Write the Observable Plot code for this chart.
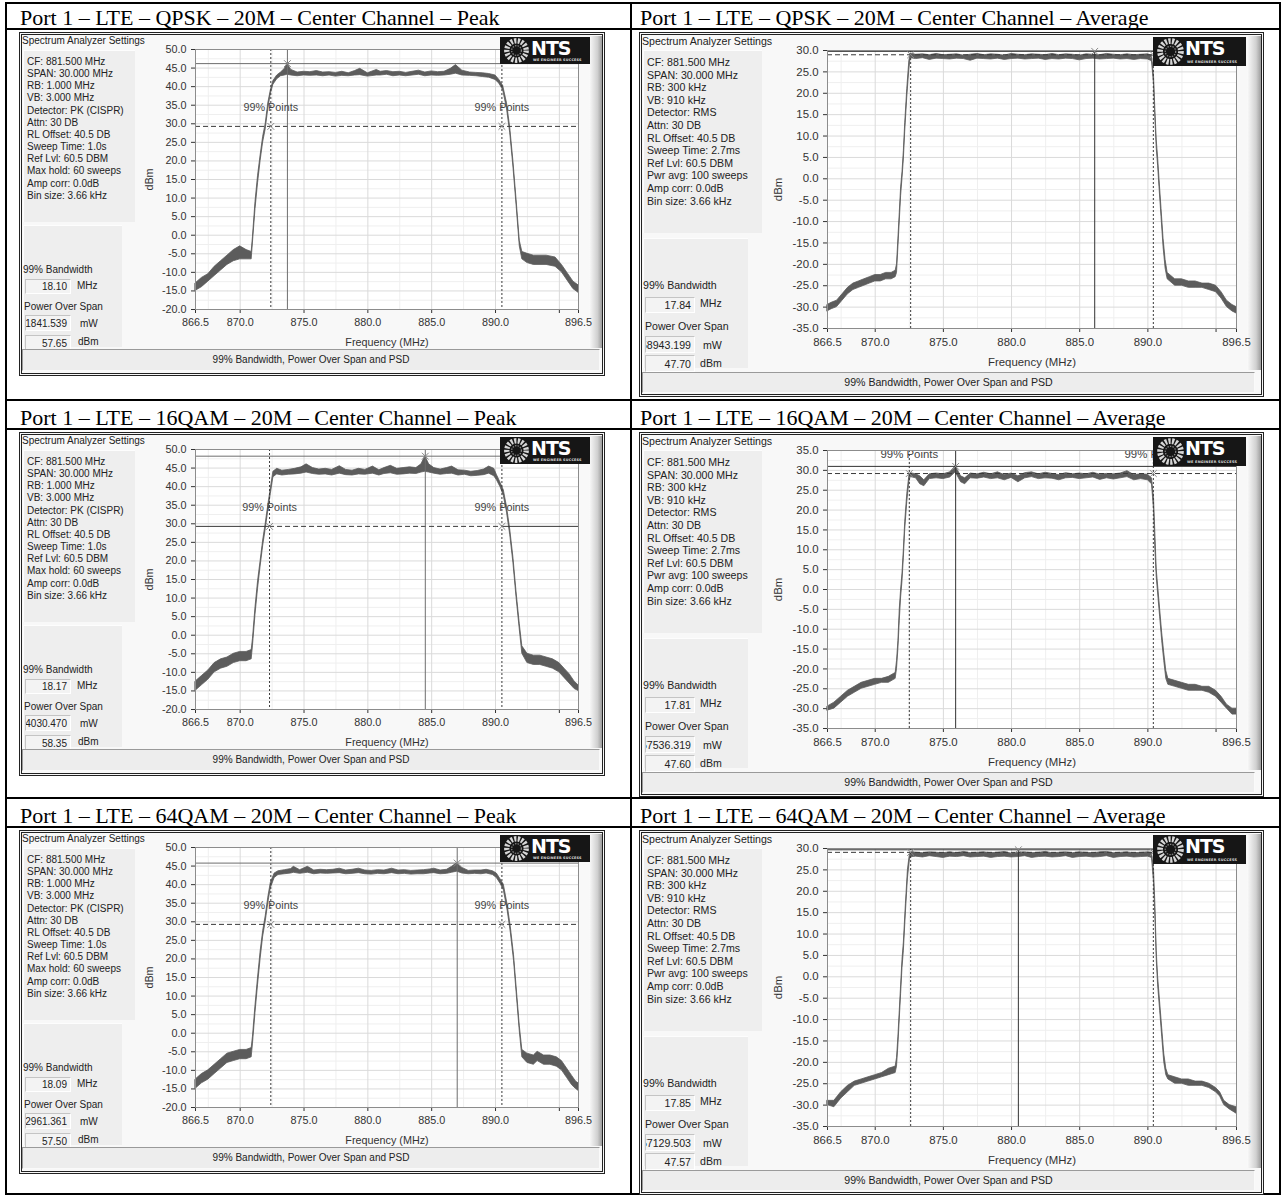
<!DOCTYPE html>
<html><head><meta charset="utf-8">
<script src="https://cdn.jsdelivr.net/npm/d3@7/dist/d3.min.js"></script>
<script src="https://cdn.jsdelivr.net/npm/@observablehq/plot@0.6/dist/plot.umd.min.js"></script>
<style>
body{margin:0;background:#fff;width:1281px;height:1196px;position:relative;overflow:hidden;font-family:'Liberation Sans',Arial,sans-serif;}
.tl{position:absolute;background:#000;}
.title{position:absolute;font-family:'Liberation Serif','Times New Roman',serif;font-size:22px;line-height:22px;white-space:nowrap;color:#000;}
.frame{position:absolute;box-sizing:border-box;border:3px double #222;background:#f8f8f8;}
.lbl{position:absolute;white-space:nowrap;color:#222;line-height:1.2;}
.box{position:absolute;background:#eeeeee;box-sizing:border-box;border-top:1px solid #fdfdfd;border-left:1px solid #fdfdfd;}
.vbox{position:absolute;box-sizing:border-box;background:#f3f3f3;border-top:1px solid #c4c4c4;border-left:1px solid #c4c4c4;border-bottom:1px solid #fff;border-right:1px solid #fff;display:flex;justify-content:flex-end;align-items:center;overflow:hidden;white-space:nowrap;padding-right:3px;color:#222;}
.status{position:absolute;box-sizing:border-box;background:#ededed;border:1px solid #9a9a9a;border-right-color:#fafafa;border-bottom-color:#fafafa;text-align:center;color:#222;}
.strip{position:absolute;background:linear-gradient(to right,#fbfbfb,#d0d0d0 65%,#9c9c9c);}
.logo{position:absolute;background:#161616;overflow:hidden;z-index:5;}
.logo .nts{position:absolute;color:#fff;font-family:'DejaVu Sans',sans-serif;font-weight:bold;letter-spacing:-1px;line-height:1;}
.logo .tag{position:absolute;color:#ddd;font-family:'DejaVu Sans',sans-serif;font-weight:bold;white-space:nowrap;line-height:1;}
.plotwrap{position:absolute;z-index:2;}
</style></head><body>
<script>
// ---------------- DATA ----------------
const titles = [
  "Port 1 – LTE – QPSK – 20M – Center Channel – Peak",
  "Port 1 – LTE – QPSK – 20M – Center Channel – Average",
  "Port 1 – LTE – 16QAM – 20M – Center Channel – Peak",
  "Port 1 – LTE – 16QAM – 20M – Center Channel – Average",
  "Port 1 – LTE – 64QAM – 20M – Center Channel – Peak",
  "Port 1 – LTE – 64QAM – 20M – Center Channel – Average"
];
const peakSettings = ["CF: 881.500 MHz","SPAN: 30.000 MHz","RB: 1.000 MHz","VB: 3.000 MHz","Detector: PK (CISPR)","Attn: 30 DB","RL Offset: 40.5 DB","Sweep Time: 1.0s","Ref Lvl: 60.5 DBM","Max hold: 60 sweeps","Amp corr: 0.0dB","Bin size: 3.66 kHz"];
const avgSettings = ["CF: 881.500 MHz","SPAN: 30.000 MHz","RB: 300 kHz","VB: 910 kHz","Detector: RMS","Attn: 30 DB","RL Offset: 40.5 DB","Sweep Time: 2.7ms","Ref Lvl: 60.5 DBM","Pwr avg: 100 sweeps","Amp corr: 0.0dB","Bin size: 3.66 kHz"];
const readoutLabels = ["99% Bandwidth","Power Over Span","MHz","mW","dBm"];
const statusText = "99% Bandwidth, Power Over Span and PSD";
const pointsLabel = "99% Points";

const xDomain = [866.5, 896.5];
const xTicks = [866.5, 870, 875, 880, 885, 890, 895, 896.5];
const xGridMajor = [870, 875, 880, 885, 890, 895];
const xGridMinor = [867.5, 872.5, 877.5, 882.5, 887.5, 892.5];
const yTicksPeak = [-20,-15,-10,-5,0,5,10,15,20,25,30,35,40,45,50];
const yTicksAvg30 = [-35,-30,-25,-20,-15,-10,-5,0,5,10,15,20,25,30];
const yTicksAvg35 = [-35,-30,-25,-20,-15,-10,-5,0,5,10,15,20,25,30,35];

// readouts: bandwidth (MHz), power (mW), power (dBm)
const qpskPeakReadout = ["18.10","581841.539","57.65"];
const qpskAvgReadout  = ["17.84","58943.199","47.70"];
const qam16PeakReadout = ["18.17","684030.470","58.35"];
const qam16AvgReadout  = ["17.81","57536.319","47.60"];
const qam64PeakReadout = ["18.09","562961.361","57.50"];
const qam64AvgReadout  = ["17.85","57129.503","47.57"];

// markers: [freq MHz, level dBm]
const qpskPeakMarker = [873.7, 46.2];
const qpskAvgMarker  = [886.1, 29.8];
const qam16PeakMarker = [884.5, 48.2];
const qam16AvgMarker  = [875.9, 31.0];
const qam64PeakMarker = [887.0, 45.8];
const qam64AvgMarker  = [880.5, 29.7];
// 99% points: [left freq, right freq, level]
const qpskPeakBw = [872.4, 890.5, 29.3];
const qpskAvgBw  = [872.6, 890.4, 29.0];
const qam16PeakBw = [872.3, 890.5, 29.3];
const qam16AvgBw  = [872.5, 890.4, 29.2];
const qam64PeakBw = [872.4, 890.5, 29.3];
const qam64AvgBw  = [872.6, 890.4, 29.1];

// traces: [freq MHz, lower dBm, upper dBm]
const qpskPeakTrace = [[866.5,-15.0,-13.0],[867.0,-14.0,-11.5],[867.5,-12.5,-10.5],[868.0,-11.0,-8.5],[868.5,-9.5,-7.0],[869.0,-8.0,-5.5],[869.5,-7.0,-4.0],[870.0,-6.5,-3.0],[870.5,-6.5,-4.0],[870.9,-6.5,-4.5],[871.0,-2.0,-0.5],[871.2,7.0,9.0],[871.4,14.0,16.0],[871.6,20.0,21.5],[871.8,25.0,26.5],[872.0,28.5,30.0],[872.2,34.0,35.5],[872.4,38.0,39.0],[872.6,40.5,41.5],[872.9,42.0,43.0],[873.2,42.8,43.8],[873.5,43.0,44.8],[873.7,43.2,46.2],[874.0,43.0,44.5],[874.5,42.8,43.8],[875.0,43.0,44.0],[875.5,42.9,43.9],[876.0,43.0,44.2],[876.5,42.8,43.8],[877.0,43.0,43.9],[877.5,42.7,43.7],[878.0,42.9,44.0],[878.5,42.8,43.6],[879.0,43.0,44.2],[879.4,43.1,44.8],[880.0,42.7,43.6],[880.7,43.0,44.5],[881.0,43.0,44.0],[881.5,43.2,44.2],[882.0,42.8,43.9],[882.5,43.0,44.0],[883.0,42.8,43.7],[883.5,43.0,44.0],[884.0,43.2,44.3],[884.5,42.8,43.8],[885.0,43.0,44.1],[885.5,42.9,43.9],[886.0,43.0,44.0],[886.5,43.2,44.8],[886.9,43.5,45.8],[887.4,43.0,44.3],[888.0,42.9,43.8],[888.5,42.8,43.7],[889.0,42.6,43.6],[889.5,42.4,43.4],[890.0,41.8,43.0],[890.3,40.8,41.8],[890.6,39.0,40.2],[890.9,34.0,35.5],[891.15,27.5,29.0],[891.4,18.5,20.0],[891.65,8.0,9.5],[891.9,-3.0,-1.5],[892.1,-6.5,-4.5],[892.5,-7.5,-5.0],[893.0,-8.0,-5.5],[894.0,-8.0,-5.5],[894.7,-8.5,-6.0],[895.2,-10.0,-8.0],[895.7,-12.5,-10.5],[896.1,-14.5,-12.5],[896.5,-15.5,-13.5]];

const qam16PeakTrace = [[866.5,-15.0,-12.5],[867.0,-13.5,-11.0],[867.5,-12.0,-9.5],[868.0,-10.0,-7.5],[868.5,-9.0,-6.5],[869.0,-8.5,-6.0],[869.5,-7.5,-5.0],[870.0,-7.0,-4.5],[870.5,-7.0,-4.5],[870.9,-6.5,-4.0],[871.0,-3.0,-1.0],[871.2,5.5,7.5],[871.4,12.5,14.5],[871.6,18.5,20.0],[871.8,24.0,25.5],[872.0,28.5,30.0],[872.2,33.5,35.0],[872.4,38.0,39.5],[872.6,42.5,44.0],[872.9,43.3,44.8],[873.3,43.0,44.3],[873.8,43.2,44.5],[874.3,43.3,44.8],[874.8,43.5,45.2],[875.2,43.8,46.0],[875.7,43.4,45.0],[876.2,43.2,44.6],[876.7,43.3,44.8],[877.2,43.0,44.5],[877.8,43.5,45.5],[878.3,43.1,44.5],[878.8,43.0,44.3],[879.3,43.3,44.8],[879.8,43.2,44.5],[880.4,43.5,45.4],[880.9,43.0,44.4],[881.3,43.4,45.0],[881.8,43.6,45.6],[882.3,43.2,44.8],[882.8,43.3,45.0],[883.3,43.5,45.2],[883.8,43.4,45.0],[884.2,43.8,46.0],[884.5,44.0,48.2],[884.8,43.8,46.0],[885.2,43.5,45.0],[885.7,43.2,44.6],[886.2,43.4,45.0],[886.6,43.5,45.4],[887.1,43.0,44.4],[887.6,43.2,44.3],[888.1,42.8,44.0],[888.6,42.9,44.2],[889.1,43.1,44.6],[889.5,43.5,45.4],[889.9,42.8,44.8],[890.1,41.8,43.2],[890.4,39.8,41.0],[890.65,37.5,39.0],[890.9,33.0,34.5],[891.15,27.0,28.5],[891.4,19.5,21.0],[891.65,10.0,11.5],[891.9,1.5,3.0],[892.1,-5.0,-3.0],[892.5,-7.5,-5.0],[893.0,-8.0,-5.5],[893.5,-8.0,-5.5],[894.0,-8.5,-6.0],[894.5,-9.0,-6.5],[895.0,-10.0,-7.5],[895.4,-11.5,-9.0],[895.8,-13.0,-10.5],[896.2,-14.5,-12.5],[896.5,-15.0,-13.5]];

const qam64PeakTrace = [[866.5,-15.0,-12.5],[867.0,-13.5,-11.0],[867.5,-12.5,-10.0],[868.0,-11.0,-8.5],[868.5,-9.5,-7.0],[869.0,-8.0,-5.5],[869.5,-7.5,-5.0],[870.0,-7.0,-4.5],[870.5,-7.0,-4.5],[870.9,-6.5,-4.0],[871.0,-3.0,-1.0],[871.2,5.5,7.5],[871.4,13.0,15.0],[871.6,20.0,22.0],[871.8,26.0,27.5],[872.0,30.0,31.5],[872.2,35.0,36.5],[872.4,39.0,40.5],[872.7,41.8,43.0],[873.0,42.6,43.6],[873.5,42.8,43.9],[874.0,43.0,44.2],[874.2,43.2,44.8],[874.7,42.9,43.9],[875.3,43.2,44.8],[875.8,42.8,43.8],[876.3,43.0,44.0],[876.8,42.9,43.9],[877.3,43.0,44.0],[877.8,43.1,44.3],[878.3,42.8,43.8],[878.8,42.9,44.0],[879.3,43.1,44.3],[879.8,42.8,43.8],[880.3,42.7,43.7],[880.8,42.9,43.9],[881.3,42.8,43.8],[881.9,43.1,44.3],[882.4,42.8,43.8],[882.9,42.9,43.9],[883.4,42.7,43.7],[883.9,42.8,43.8],[884.4,42.8,43.9],[884.9,43.0,44.1],[885.2,43.1,44.3],[885.7,42.8,43.8],[886.2,42.9,44.0],[886.6,43.2,44.8],[887.0,43.5,45.8],[887.4,43.0,44.5],[887.9,42.8,43.7],[888.4,42.9,43.8],[888.9,42.8,43.8],[889.3,43.0,44.0],[889.8,42.6,43.6],[890.1,41.8,43.0],[890.4,40.2,41.4],[890.65,38.5,40.0],[890.95,33.0,34.5],[891.2,27.0,28.5],[891.45,19.5,21.0],[891.65,11.0,12.5],[891.9,0.5,2.0],[892.1,-6.5,-4.5],[892.5,-8.0,-5.5],[893.0,-8.5,-6.0],[893.3,-7.5,-5.0],[893.8,-8.5,-6.0],[894.3,-8.5,-6.0],[894.8,-9.0,-6.5],[895.2,-10.0,-7.5],[895.6,-12.0,-9.5],[896.0,-14.0,-11.5],[896.3,-15.0,-13.0],[896.5,-15.5,-13.5]];

const qpskAvgTrace = [[866.5,-31.0,-29.5],[866.8,-30.5,-29.0],[867.2,-30.0,-28.5],[867.6,-28.5,-27.0],[868.0,-27.0,-25.5],[868.4,-26.0,-24.5],[868.8,-25.5,-24.0],[869.2,-25.0,-23.5],[869.6,-24.5,-23.0],[870.0,-24.0,-22.5],[870.4,-24.0,-22.5],[870.8,-23.5,-22.0],[871.2,-23.5,-22.0],[871.5,-23.0,-21.5],[871.6,-22.0,-20.0],[871.7,-16.0,-14.0],[871.8,-10.0,-8.0],[871.9,-4.0,-2.0],[872.0,0.0,1.5],[872.1,4.5,6.5],[872.2,11.0,13.0],[872.35,19.0,21.0],[872.5,25.5,27.5],[872.6,28.2,29.3],[873.0,28.0,29.0],[873.5,28.2,29.1],[874.0,27.8,28.9],[874.5,28.1,29.2],[875.0,28.0,28.9],[875.5,27.9,29.0],[876.0,28.1,29.1],[876.5,28.0,28.8],[877.0,27.6,29.0],[877.5,28.1,29.2],[878.0,28.0,28.9],[878.5,27.9,29.1],[879.0,28.1,29.0],[879.5,27.8,28.8],[880.0,28.0,29.2],[880.5,28.1,29.0],[881.0,27.9,28.9],[881.5,28.0,29.1],[882.0,28.1,29.0],[882.5,27.8,28.9],[883.0,28.0,29.2],[883.5,27.9,28.9],[884.0,28.1,29.1],[884.5,28.0,29.0],[885.0,27.7,28.8],[885.5,28.0,29.1],[886.0,28.1,29.0],[886.5,27.9,28.9],[887.0,28.0,29.2],[887.5,28.1,29.0],[888.0,27.9,28.9],[888.5,28.0,29.1],[889.0,27.8,28.9],[889.5,28.0,29.0],[890.0,27.9,29.1],[890.3,27.5,28.8],[890.45,22.0,24.0],[890.55,14.0,16.0],[890.65,7.0,9.0],[890.75,3.0,5.0],[890.85,-2.0,0.0],[891.0,-9.0,-7.0],[891.15,-16.0,-14.0],[891.3,-21.0,-19.0],[891.45,-23.5,-22.0],[892.0,-25.0,-23.5],[892.5,-25.0,-23.5],[893.0,-25.5,-24.0],[893.5,-25.5,-24.0],[894.0,-25.5,-24.5],[894.5,-26.0,-24.5],[895.0,-26.5,-25.0],[895.4,-28.0,-26.5],[895.8,-30.0,-28.5],[896.2,-31.0,-29.5],[896.5,-31.5,-30.0]];

const qam16AvgTrace = [[866.5,-30.5,-29.5],[867.0,-30.0,-28.5],[867.5,-28.5,-27.0],[868.0,-27.0,-25.5],[868.5,-26.0,-24.5],[869.0,-25.0,-23.5],[869.5,-24.5,-23.0],[870.0,-24.0,-22.5],[870.5,-23.5,-22.5],[871.0,-23.5,-22.0],[871.5,-22.5,-21.0],[871.6,-20.0,-18.0],[871.7,-15.0,-13.0],[871.8,-8.0,-5.0],[871.9,-2.0,0.0],[872.0,2.0,4.0],[872.1,8.0,10.0],[872.2,15.0,17.0],[872.35,22.0,24.0],[872.5,27.0,28.5],[872.6,28.3,29.3],[873.0,28.0,29.0],[873.3,26.5,28.5],[873.6,26.0,27.5],[874.0,27.8,29.0],[874.5,28.0,29.2],[875.0,27.8,29.0],[875.5,28.2,29.5],[875.9,29.5,31.0],[876.3,27.0,28.5],[876.6,26.5,28.0],[877.0,28.0,29.2],[877.5,27.9,29.0],[878.0,28.2,29.4],[878.5,27.8,29.0],[879.0,28.0,29.5],[879.5,27.5,28.8],[880.0,28.1,29.2],[880.5,27.0,28.5],[881.0,28.0,29.3],[881.5,28.3,29.5],[882.0,27.8,29.0],[882.5,28.0,29.4],[883.0,27.9,29.1],[883.5,27.5,28.8],[884.0,28.0,29.3],[884.5,28.1,29.0],[885.0,27.8,29.2],[885.5,28.0,29.0],[886.0,28.2,29.4],[886.5,27.6,28.9],[887.0,28.0,29.1],[887.5,27.7,29.0],[888.0,28.0,29.2],[888.5,28.3,29.8],[889.0,27.5,28.8],[889.5,27.8,29.0],[890.0,27.5,28.9],[890.3,26.5,28.0],[890.45,20.0,23.0],[890.55,10.0,14.0],[890.65,3.0,5.0],[890.75,-1.0,1.0],[890.9,-7.0,-5.0],[891.05,-13.0,-11.0],[891.2,-18.0,-16.0],[891.35,-22.5,-20.5],[891.5,-24.0,-22.5],[892.0,-24.5,-23.0],[892.5,-25.0,-23.5],[893.0,-25.5,-24.0],[893.5,-25.5,-24.0],[894.0,-25.5,-24.5],[894.5,-26.0,-24.5],[895.0,-27.0,-25.5],[895.4,-28.5,-27.0],[895.8,-30.0,-29.0],[896.2,-31.5,-30.0],[896.5,-31.5,-30.0]];

const qam64AvgTrace = [[866.5,-30.0,-29.0],[867.0,-30.5,-29.0],[867.5,-28.5,-27.0],[868.0,-27.0,-25.5],[868.5,-25.5,-24.5],[869.0,-25.0,-24.0],[869.5,-24.5,-23.5],[870.0,-24.0,-23.0],[870.5,-23.5,-22.5],[871.0,-23.0,-21.5],[871.5,-22.5,-21.0],[871.6,-21.0,-19.0],[871.7,-16.0,-14.0],[871.8,-10.0,-8.0],[871.9,-4.0,-2.0],[872.0,2.0,4.0],[872.1,6.0,8.0],[872.25,15.0,17.0],[872.4,23.0,25.0],[872.55,27.5,28.8],[872.7,28.0,29.2],[873.0,28.1,29.0],[873.5,27.9,28.9],[874.0,28.2,29.1],[874.5,28.0,29.0],[875.0,27.8,28.9],[875.5,28.1,29.1],[876.0,28.0,28.9],[876.5,28.2,29.2],[877.0,27.9,28.9],[877.5,28.0,29.0],[878.0,28.1,29.1],[878.5,27.8,28.9],[879.0,28.0,29.0],[879.5,28.1,29.2],[880.0,27.9,28.8],[880.5,28.0,29.0],[881.0,28.2,29.1],[881.5,27.8,28.9],[882.0,28.0,29.0],[882.5,28.1,29.2],[883.0,27.9,28.9],[883.5,28.0,29.0],[884.0,28.2,29.1],[884.5,27.8,28.9],[885.0,28.0,29.1],[885.5,28.1,29.0],[886.0,27.9,28.9],[886.5,28.0,29.1],[887.0,28.2,29.2],[887.5,27.8,28.9],[888.0,28.0,29.0],[888.5,28.1,29.1],[889.0,27.9,28.9],[889.5,28.0,29.0],[890.0,28.1,29.1],[890.3,27.8,29.0],[890.45,22.0,25.0],[890.55,14.0,17.0],[890.65,4.0,6.0],[890.75,-2.0,0.0],[890.9,-8.0,-6.0],[891.05,-14.0,-12.0],[891.2,-20.0,-18.0],[891.35,-23.0,-21.5],[891.5,-24.0,-23.0],[892.0,-25.0,-23.5],[892.5,-25.0,-24.0],[893.0,-25.5,-24.0],[893.5,-25.5,-24.5],[894.0,-25.5,-24.5],[894.5,-26.0,-25.0],[895.0,-27.0,-26.0],[895.3,-28.0,-27.0],[895.6,-30.0,-29.0],[896.0,-31.0,-30.0],[896.5,-32.0,-30.5]];

// ---------------- LAYOUT ----------------
const GEO = {
  peak: {frame:[19,32,586,344], head:[22,35], fs:10, sbox:[23,50,112,172], lines:[27,56,12.15], lbox:[23,225,99,122],
    bwLbl:[23,264], v1:[25,279,46,15], u1:[77,280], posLbl:[24,301], v2:[25,315,46,16], u2:[80,318], v3:[25,335,46,16], u3:[78,336],
    status:[22,349,578,22], strip:[589,36,13,312], logo:[500,37,90,27], nts:[31,2,19], tag:[33,21.5,3.4],
    svg:[140,38,455,312], m:[11,17,41,55], tfs:10.8, xlo:36, ylo:50},
  avg: {frame:[639,32,625,365], head:[642,35], fs:10.6, sbox:[643,50,119,183], lines:[647,56,12.6], lbox:[643,238,105,130],
    bwLbl:[643,279], v1:[645,297,50,16], u1:[700,297], posLbl:[645,320], v2:[645,336,50,17], u2:[703,339], v3:[645,355,50,17], u3:[700,357],
    status:[642,372,613,21], strip:[1247,36,14,334], logo:[1153,37,93,29], nts:[32,2,19], tag:[34,23.5,3.5],
    svg:[760,38,495,335], m:[12,19,45,67], tfs:11.4, xlo:37, ylo:54}
};

const panels = [
  {type:"peak", off:0,   title:titles[0], settings:peakSettings, readout:qpskPeakReadout, trace:qpskPeakTrace, marker:qpskPeakMarker, bw:qpskPeakBw, yTicks:yTicksPeak, bwStyle:"dashed", labelY:34.4, mColor:"#6e6e6e"},
  {type:"avg",  off:0,   title:titles[1], settings:avgSettings,  readout:qpskAvgReadout,  trace:qpskAvgTrace,  marker:qpskAvgMarker,  bw:qpskAvgBw,  yTicks:yTicksAvg30, bwStyle:"dashed", labelY:null, mColor:"#333"},
  {type:"peak", off:400, title:titles[2], settings:peakSettings, readout:qam16PeakReadout, trace:qam16PeakTrace, marker:qam16PeakMarker, bw:qam16PeakBw, yTicks:yTicksPeak, bwStyle:"mixed", labelY:34.4, mColor:"#6e6e6e"},
  {type:"avg",  off:400, title:titles[3], settings:avgSettings,  readout:qam16AvgReadout,  trace:qam16AvgTrace,  marker:qam16AvgMarker,  bw:qam16AvgBw,  yTicks:yTicksAvg35, bwStyle:"dashed", labelY:34.0, mColor:"#333"},
  {type:"peak", off:798, title:titles[4], settings:peakSettings, readout:qam64PeakReadout, trace:qam64PeakTrace, marker:qam64PeakMarker, bw:qam64PeakBw, yTicks:yTicksPeak, bwStyle:"dashed", labelY:34.4, mColor:"#6e6e6e"},
  {type:"avg",  off:798, title:titles[5], settings:avgSettings,  readout:qam64AvgReadout,  trace:qam64AvgTrace,  marker:qam64AvgMarker,  bw:qam64AvgBw,  yTicks:yTicksAvg30, bwStyle:"dashed", labelY:null, mColor:"#333"}
];

function div(cls, x, y, w, h, text, extra) {
  const d = document.createElement("div");
  d.className = cls;
  d.style.left = x + "px"; d.style.top = y + "px";
  if (w != null) d.style.width = w + "px";
  if (h != null) d.style.height = h + "px";
  if (text != null) d.textContent = text;
  if (extra) Object.assign(d.style, extra);
  document.body.appendChild(d);
  return d;
}

// table rules
[2, 28, 399, 428, 797, 826, 1193].forEach(y => div("tl", 5, y, 1276, 2));
[5, 630, 1279].forEach(x => div("tl", x, 2, 2, 1193));
// titles
panels.forEach(p => {
  const x = p.type === "peak" ? 20 : 640;
  div("title", x, 7 + p.off, null, null, p.title);
});

function spectrumPlot(p, g) {
  const rows = p.trace.map(([f, lo, hi]) => ({f, lo, hi}));
  const yMinor = p.yTicks.slice(1).map((t, i) => (t + p.yTicks[i]) / 2);
  const [bl, br, lvl] = p.bw;
  const segs = p.bwStyle === "mixed"
    ? [{a: xDomain[0], b: bl, y: lvl, solid: true}, {a: bl, b: br, y: lvl, solid: false}, {a: br, b: xDomain[1], y: lvl, solid: true}]
    : [{a: xDomain[0], b: xDomain[1], y: lvl, solid: false}];
  const pts = [{f: bl, y: lvl}, {f: br, y: lvl}, {f: p.marker[0], y: p.marker[1]}];
  const marks = [
    Plot.frame({fill: "#ffffff", stroke: "none"}),
    Plot.ruleX(xGridMinor, {stroke: "#efefef"}),
    Plot.ruleY(yMinor, {stroke: "#efefef"}),
    Plot.ruleX(xGridMajor, {stroke: "#dadada"}),
    Plot.ruleY(p.yTicks, {stroke: "#dadada"}),
    Plot.areaY(rows, {x: "f", y1: "lo", y2: "hi", fill: "#5c5c5c", stroke: "#5c5c5c", strokeWidth: 0.8}),
    Plot.ruleX([bl, br], {stroke: "#3a3a3a", strokeDasharray: "2,2"}),
    Plot.ruleY(segs.filter(s => s.solid), {y: "y", x1: "a", x2: "b", stroke: "#3a3a3a"}),
    Plot.ruleY(segs.filter(s => !s.solid), {y: "y", x1: "a", x2: "b", stroke: "#3a3a3a", strokeDasharray: "5,3"}),
    Plot.ruleY([p.marker[1]], {stroke: p.mColor}),
    Plot.ruleX([p.marker[0]], {stroke: p.mColor}),
    Plot.dot(pts, {x: "f", y: "y", symbol: "times", r: 3.2, stroke: "#8a8a8a", strokeWidth: 1})
  ];
  if (p.labelY != null) {
    marks.push(Plot.text([bl, br].map(f => ({f, y: p.labelY})), {x: "f", y: "y", text: () => pointsLabel, fill: "#444", fontSize: g.tfs}));
  }
  marks.push(Plot.frame({stroke: "#8c8c8c"}));
  const [w, h] = [g.svg[2], g.svg[3]];
  return Plot.plot({
    width: w, height: h,
    marginTop: g.m[0], marginRight: g.m[1], marginBottom: g.m[2], marginLeft: g.m[3],
    style: {fontFamily: "'Liberation Sans', Arial, sans-serif", fontSize: g.tfs + "px", color: "#333", background: "transparent", overflow: "visible"},
    x: {domain: xDomain, ticks: xTicks, tickFormat: d => d === 895 ? "" : d.toFixed(1), tickSize: 4, label: "Frequency (MHz)", labelAnchor: "center", labelArrow: "none", labelOffset: g.xlo},
    y: {domain: [p.yTicks[0], p.yTicks[p.yTicks.length - 1]], ticks: p.yTicks, tickFormat: d => d.toFixed(1), tickSize: 4, label: "dBm", labelAnchor: "center", labelArrow: "none", labelOffset: g.ylo},
    marks
  });
}

panels.forEach(p => {
  const g = GEO[p.type], o = p.off;
  div("frame", g.frame[0], g.frame[1] + o, g.frame[2], g.frame[3]);
  div("lbl", g.head[0], g.head[1] + o, null, null, "Spectrum Analyzer Settings", {fontSize: g.fs + "px"});
  div("box", g.sbox[0], g.sbox[1] + o, g.sbox[2], g.sbox[3]);
  p.settings.forEach((s, i) => div("lbl", g.lines[0], g.lines[1] + o + i * g.lines[2], null, null, s, {fontSize: g.fs + "px", lineHeight: g.lines[2] + "px"}));
  div("box", g.lbox[0], g.lbox[1] + o, g.lbox[2], g.lbox[3]);
  div("lbl", g.bwLbl[0], g.bwLbl[1] + o, null, null, readoutLabels[0], {fontSize: g.fs + "px"});
  div("vbox", g.v1[0], g.v1[1] + o, g.v1[2], g.v1[3], p.readout[0], {fontSize: g.fs + "px"});
  div("lbl", g.u1[0], g.u1[1] + o, null, null, readoutLabels[2], {fontSize: g.fs + "px"});
  div("lbl", g.posLbl[0], g.posLbl[1] + o, null, null, readoutLabels[1], {fontSize: g.fs + "px"});
  div("vbox", g.v2[0], g.v2[1] + o, g.v2[2], g.v2[3], p.readout[1], {fontSize: g.fs + "px"});
  div("lbl", g.u2[0], g.u2[1] + o, null, null, readoutLabels[3], {fontSize: g.fs + "px"});
  div("vbox", g.v3[0], g.v3[1] + o, g.v3[2], g.v3[3], p.readout[2], {fontSize: g.fs + "px"});
  div("lbl", g.u3[0], g.u3[1] + o, null, null, readoutLabels[4], {fontSize: g.fs + "px"});
  div("status", g.status[0], g.status[1] + o, g.status[2], g.status[3], statusText, {fontSize: g.fs + "px", lineHeight: (g.status[3] - 2) + "px"});
  div("strip", g.strip[0], g.strip[1] + o, g.strip[2], g.strip[3]);
  const wrap = div("plotwrap", g.svg[0], g.svg[1] + o, g.svg[2], g.svg[3]);
  wrap.appendChild(spectrumPlot(p, g));
  const logo = div("logo", g.logo[0], g.logo[1] + o, g.logo[2], g.logo[3]);
  const r = g.logo[3] * 0.36;
  logo.innerHTML = `<svg width="${g.logo[3]}" height="${g.logo[3]}" style="position:absolute;left:3px;top:0">
    <circle cx="${g.logo[3]/2}" cy="${g.logo[3]/2}" r="${r}" fill="none" stroke="#d6d6d6" stroke-width="${r*0.55}" stroke-dasharray="2.2 1.4"/>
    <circle cx="${g.logo[3]/2}" cy="${g.logo[3]/2}" r="${r*0.5}" fill="none" stroke="#8a8a8a" stroke-width="1.2" stroke-dasharray="1.4 1.2"/></svg>`;
  const n = document.createElement("div"); n.className = "nts"; n.textContent = "NTS";
  Object.assign(n.style, {left: g.nts[0] + "px", top: g.nts[1] + "px", fontSize: g.nts[2] + "px"});
  logo.appendChild(n);
  const t = document.createElement("div"); t.className = "tag"; t.textContent = "WE ENGINEER SUCCESS";
  Object.assign(t.style, {left: g.tag[0] + "px", top: g.tag[1] + "px", fontSize: g.tag[2] + "px", letterSpacing: "0.2px"});
  logo.appendChild(t);
});
</script>
</body></html>
